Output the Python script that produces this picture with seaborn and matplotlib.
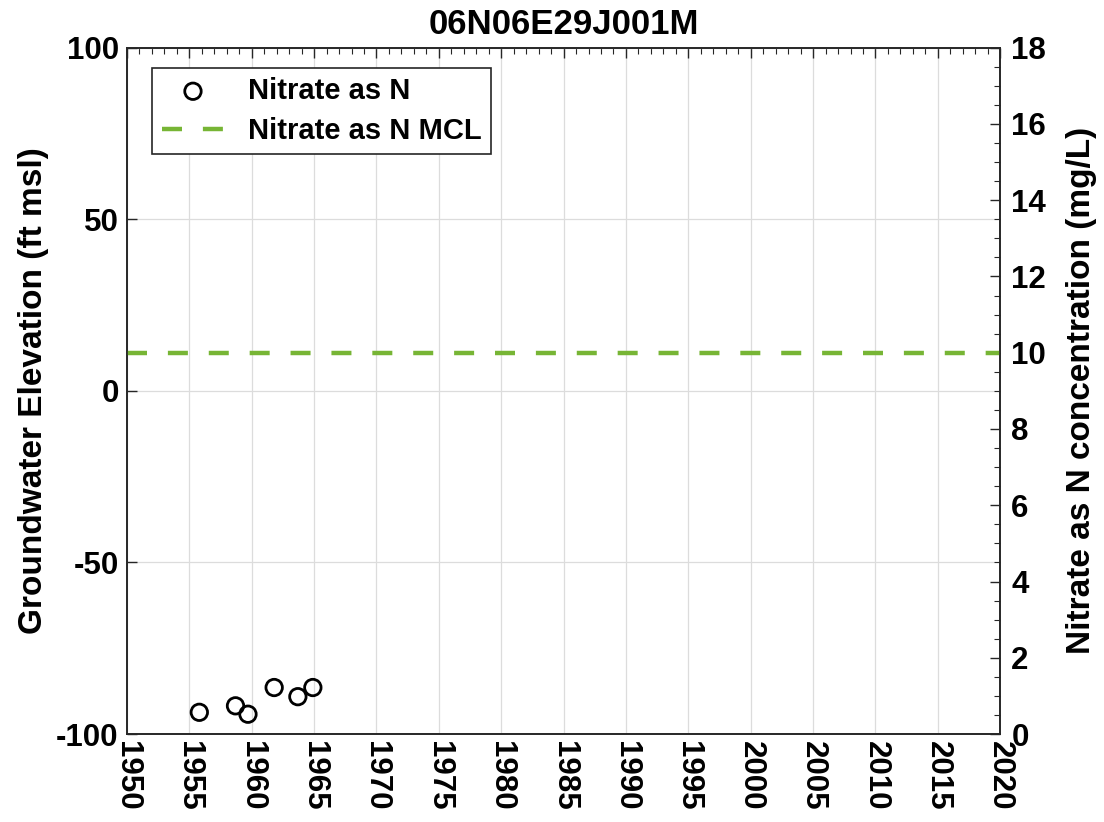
import matplotlib
matplotlib.use("Agg")
import matplotlib.pyplot as plt
import seaborn as sns
import pandas as pd
from matplotlib.ticker import MultipleLocator

sns.set_style("white")
plt.rcParams['font.family'] = ['Liberation Sans', 'DejaVu Sans']
plt.rcParams['font.weight'] = 'bold'
plt.rcParams['text.color'] = 'black'
plt.rcParams['axes.labelcolor'] = 'black'
plt.rcParams['xtick.color'] = 'black'
plt.rcParams['ytick.color'] = 'black'

title = "06N06E29J001M"
years = [1955.8, 1958.7, 1959.7, 1961.8, 1963.7, 1964.9]
nitrate = [0.57, 0.74, 0.52, 1.22, 0.98, 1.22]
mcl_value = 10
x_ticks = list(range(1950, 2021, 5))
left_ticks = [-100, -50, 0, 50, 100]
right_ticks = list(range(0, 19, 2))

df = pd.DataFrame({"year": years, "nitrate": nitrate})

fig = plt.figure(figsize=(11.04, 8.22), dpi=100)
ax = fig.add_axes([0.115, 0.107, 0.791, 0.835])
ax2 = ax.twinx()

FS = 22.5
LFS = 24
ax.set_xlim(1950, 2020)
ax.set_ylim(-100, 100)
ax.set_xticks(x_ticks)
ax.set_xticklabels([str(t) for t in x_ticks], rotation=-90, fontsize=FS, fontweight='bold')
ax.xaxis.set_minor_locator(MultipleLocator(1))
ax.set_yticks(left_ticks)
ax.set_yticklabels([str(t) for t in left_ticks], fontsize=FS, fontweight='bold')
ax.grid(True, which='major', color='#dcdcdc', linewidth=0.9)
ax.tick_params(axis='both', which='major', direction='in', length=7, width=1, colors='#262626', labelcolor='black')
ax.tick_params(axis='x', which='minor', direction='in', length=4, width=0.8, colors='#262626', top=True)
ax.tick_params(axis='x', which='major', top=True, pad=5)
ax.tick_params(axis='y', which='major', pad=6)
ax.set_ylabel("Groundwater Elevation (ft msl)", fontsize=LFS, fontweight='bold', labelpad=5)

sns.scatterplot(data=df, x="year", y="nitrate", ax=ax2, marker='o', s=140,
                facecolors='none', edgecolor='black', linewidth=2.0, label="Nitrate as N", zorder=5)
ax2.axhline(mcl_value, color='#77b535', linewidth=3.2, dashes=(4.5, 4.7), label="Nitrate as N MCL")
ax2.set_ylim(0, 18)
ax2.set_xlim(1950, 2020)
ax2.set_yticks(right_ticks)
ax2.set_yticklabels([str(t) for t in right_ticks], fontsize=FS, fontweight='bold')
ax2.yaxis.set_minor_locator(MultipleLocator(0.5))
ax2.tick_params(axis='y', which='major', direction='in', length=7, width=1, colors='#262626', labelcolor='black', pad=8)
ax2.tick_params(axis='y', which='minor', direction='in', length=4, width=0.8, colors='#262626')
ax2.set_ylabel("Nitrate as N concentration (mg/L)", fontsize=LFS, fontweight='bold', labelpad=14)
ax2.set_xlabel("")
ax.set_xlabel("")

for a in (ax, ax2):
    for sp in a.spines.values():
        sp.set_color('#262626')
        sp.set_linewidth(1.2)

leg = ax2.legend(loc='upper left', bbox_to_anchor=(0.029, 0.971), borderaxespad=0,
                 fontsize=21, frameon=True, fancybox=False, edgecolor='#262626', framealpha=1,
                 handlelength=2.15, borderpad=0.32, labelspacing=0.42, handletextpad=0.82,
                 markerscale=1.0)
leg.get_frame().set_linewidth(1.2)
for t in leg.get_texts():
    t.set_fontweight('bold')

ax.set_title(title, fontsize=25, fontweight='bold', pad=10)

fig.savefig("out.png", dpi=100)
